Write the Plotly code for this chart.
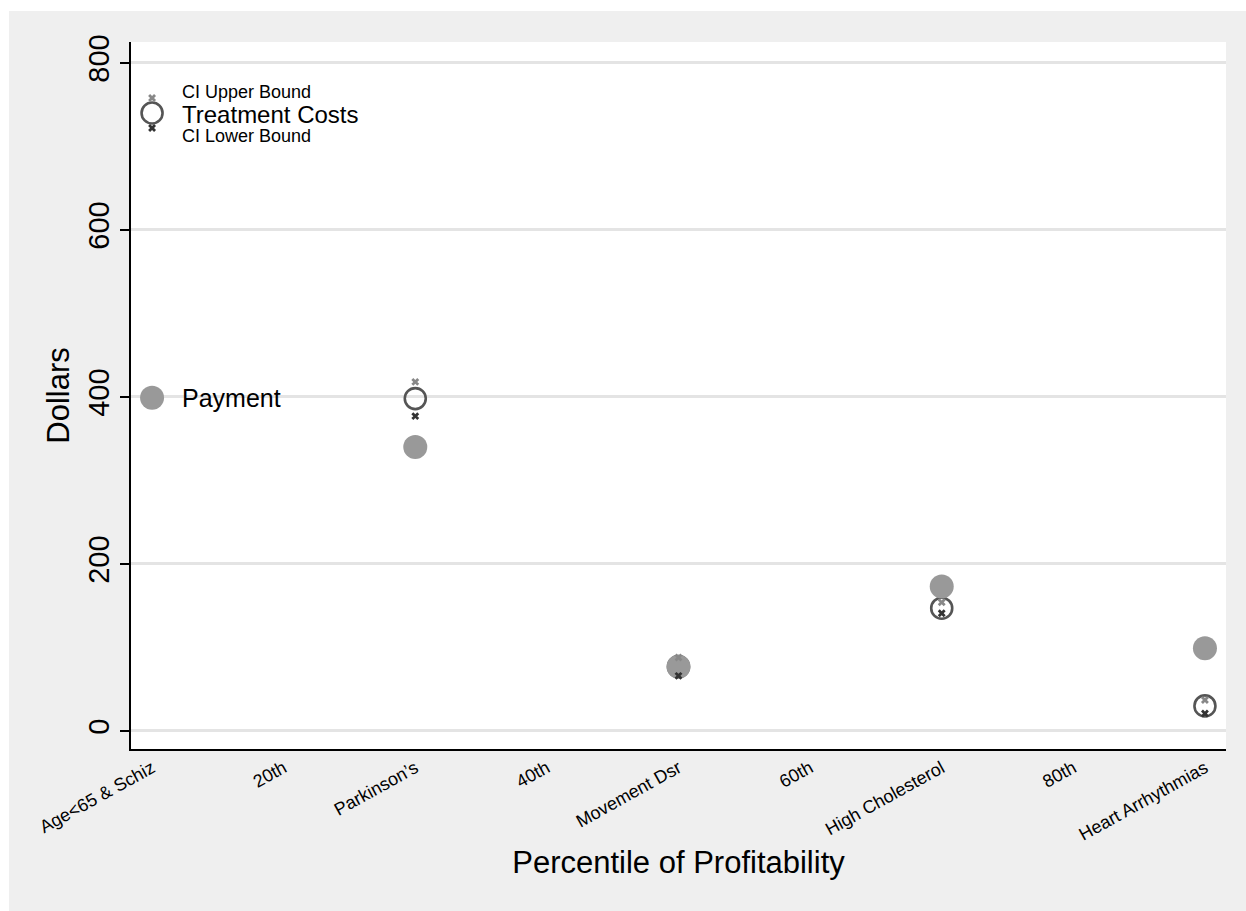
import plotly.graph_objects as go

# Condition categories placed along the profitability percentile axis
conditions = ["Age<65 & Schiz", "Parkinson's", "Movement Dsr", "High Cholesterol", "Heart Arrhythmias"]
positions = [10, 30, 50, 70, 90]

# Dollar values per condition (first entry serves as the key)
payment = [399, 340, 77, 173, 99]
treatment_costs = [740, 398, 77, 147, 30]
ci_upper = [758, 418, 88, 154, 37]
ci_lower = [722, 377, 66, 141, 21]

tick_vals = [10, 20, 30, 40, 50, 60, 70, 80, 90]
tick_text = ["Age<65 & Schiz", "20th", "Parkinson\u2019s", "40th", "Movement Dsr",
             "60th", "High Cholesterol", "80th", "Heart Arrhythmias"]
y_ticks = [0, 200, 400, 600, 800]

FONT = "Liberation Sans, Arial, Helvetica, sans-serif"

fig = go.Figure()

fig.add_trace(go.Scatter(
    x=positions, y=treatment_costs, mode="markers",
    marker=dict(symbol="circle-open", size=21, color="#555555", line=dict(width=2.6, color="#555555")),
    showlegend=False, hoverinfo="skip"))

fig.add_trace(go.Scatter(
    x=positions, y=payment, mode="markers",
    marker=dict(symbol="circle", size=24, color="#999999", line=dict(width=0)),
    showlegend=False, hoverinfo="skip"))

fig.add_trace(go.Scatter(
    x=positions, y=ci_upper, mode="markers",
    marker=dict(symbol="x", size=7, color="#888888", line=dict(width=0)),
    showlegend=False, hoverinfo="skip"))

fig.add_trace(go.Scatter(
    x=positions, y=ci_lower, mode="markers",
    marker=dict(symbol="x", size=7, color="#333333", line=dict(width=0)),
    showlegend=False, hoverinfo="skip"))

label_x = 12.1
annotations = [
    dict(x=label_x, y=765, text="CI Upper Bound", font=dict(size=18)),
    dict(x=label_x, y=738, text="Treatment Costs", font=dict(size=24)),
    dict(x=label_x, y=713, text="CI Lower Bound", font=dict(size=18)),
    dict(x=label_x, y=399, text="Payment", font=dict(size=25)),
]
for a in annotations:
    a.update(xref="x", yref="y", xanchor="left", yanchor="middle", showarrow=False)
    a["font"].update(family=FONT, color="black")

# white border strips along the top and left of the page
shapes = [
    dict(type="rect", xref="paper", yref="paper", x0=-131 / 1095, x1=-122 / 1095,
         y0=-0.5, y1=1.5, fillcolor="white", line=dict(width=0), layer="below"),
    dict(type="rect", xref="paper", yref="paper", x0=-0.5, x1=1.5,
         y0=(749 - 11) / 707, y1=1.5, fillcolor="white", line=dict(width=0), layer="below"),
]

fig.update_layout(
    width=1246, height=911,
    margin=dict(l=131, r=20, t=42, b=162),
    paper_bgcolor="#efefef", plot_bgcolor="white",
    font=dict(family=FONT, color="black"),
    annotations=annotations, shapes=shapes,
    showlegend=False,
)

fig.update_xaxes(
    range=[8.4, 91.6], tickmode="array", tickvals=tick_vals, ticktext=tick_text,
    tickangle=-29, tickfont=dict(size=18), ticks="", showgrid=False, zeroline=False,
    showline=True, linecolor="black", linewidth=1.5,
    title=dict(text="Percentile of Profitability", font=dict(size=31), standoff=8),
)

fig.update_yaxes(
    range=[-21.6, 825], tickmode="array", tickvals=y_ticks, tickangle=-90,
    tickfont=dict(size=29), ticks="outside", ticklen=9, tickwidth=1.5, tickcolor="black",
    showgrid=True, gridcolor="#e4e4e4", gridwidth=2.5, zeroline=False,
    showline=True, linecolor="black", linewidth=1.5,
    title=dict(text="Dollars", font=dict(size=31), standoff=4),
)

fig.write_html("out.html")
